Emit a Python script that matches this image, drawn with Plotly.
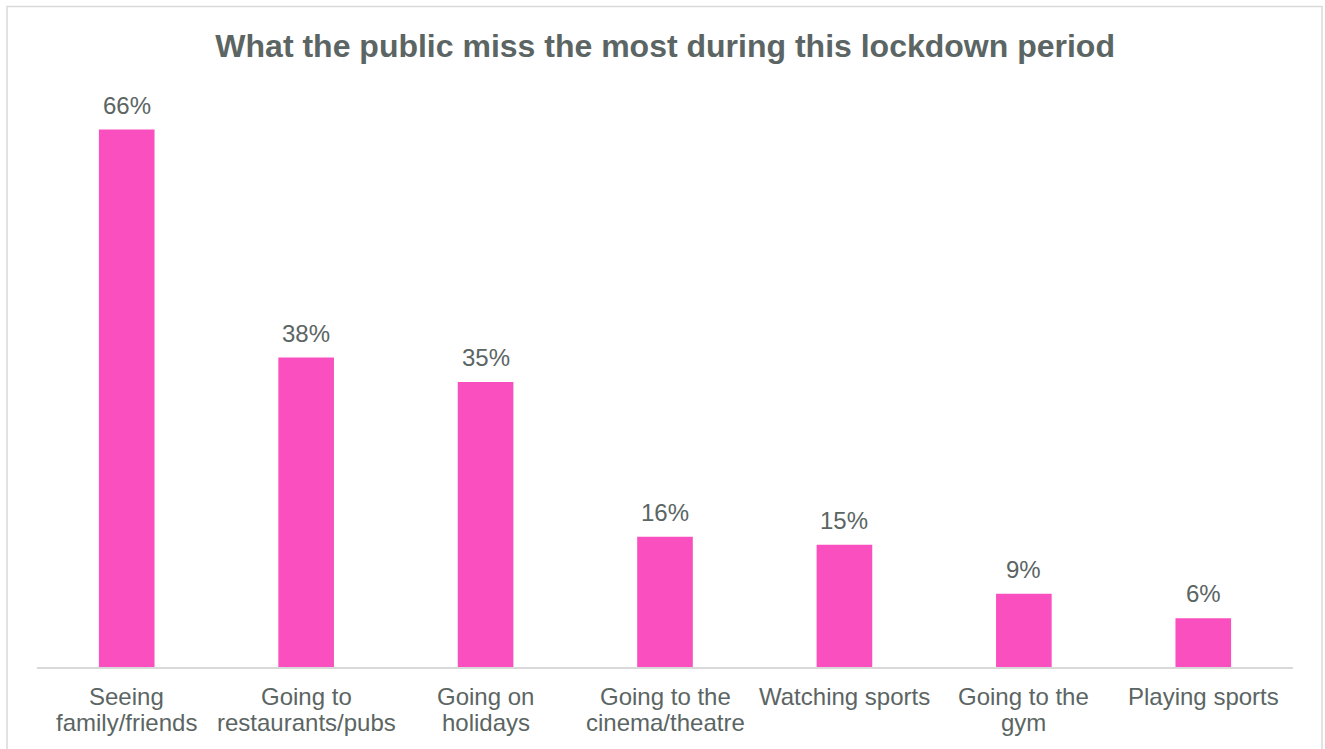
import plotly.graph_objects as go

categories = ["Seeing<br>family/friends", "Going to<br>restaurants/pubs", "Going on<br>holidays",
              "Going to the<br>cinema/theatre", "Watching sports", "Going to the<br>gym", "Playing sports"]
values = [66, 38, 35, 16, 15, 9, 6]
labels = ["66%", "38%", "35%", "16%", "15%", "9%", "6%"]

TXT = "#5B6563"
BAR = "#F94FBF"
FONT = "Liberation Sans, Arial, sans-serif"

fig = go.Figure()
fig.add_trace(go.Bar(x=categories, y=values, marker=dict(color=BAR, line=dict(width=0)),
                     width=0.31, hoverinfo="skip"))

for c, v, t in zip(categories, values, labels):
    fig.add_annotation(x=c, y=v, text=t, showarrow=False, yanchor="bottom", yshift=9,
                       font=dict(family=FONT, size=24, color=TXT))

# category labels, one line each (tighter line spacing than Plotly's tick labels)
for c in categories:
    for i, line in enumerate(c.split("<br>")):
        fig.add_annotation(x=c, y=0, yref="y", text=line, showarrow=False, yanchor="top",
                           xanchor="center", yshift=-14 - 26 * i,
                           font=dict(family=FONT, size=24, color=TXT))

L, R, T, B = 37, 1325 - 1293, 96.5, 749 - 667
pw, ph = 1325 - L - R, 749 - T - B
fig.add_shape(type="rect", xref="paper", yref="paper",
              x0=(7 - L) / pw, x1=(1322 - L) / pw, y0=(667 - 760) / ph, y1=(667 - 6) / ph,
              line=dict(color="#D9D9D9", width=1.5), fillcolor="rgba(0,0,0,0)", layer="below")

fig.update_layout(
    width=1325, height=749,
    margin=dict(l=L, r=R, t=T, b=B),
    paper_bgcolor="white", plot_bgcolor="white",
    title=dict(text="<b>What the public miss the most during this lockdown period</b>",
               x=0.502, xanchor="center", y=1 - 46 / 749, yanchor="middle",
               font=dict(family=FONT, size=32, color=TXT)),
    showlegend=False,
    xaxis=dict(showline=True, linecolor="#D9D9D9", linewidth=1.5, showgrid=False, ticks="",
               showticklabels=False, fixedrange=True),
    yaxis=dict(range=[0, 70], visible=False, showgrid=False, zeroline=False),
)

fig.write_html("out.html")
